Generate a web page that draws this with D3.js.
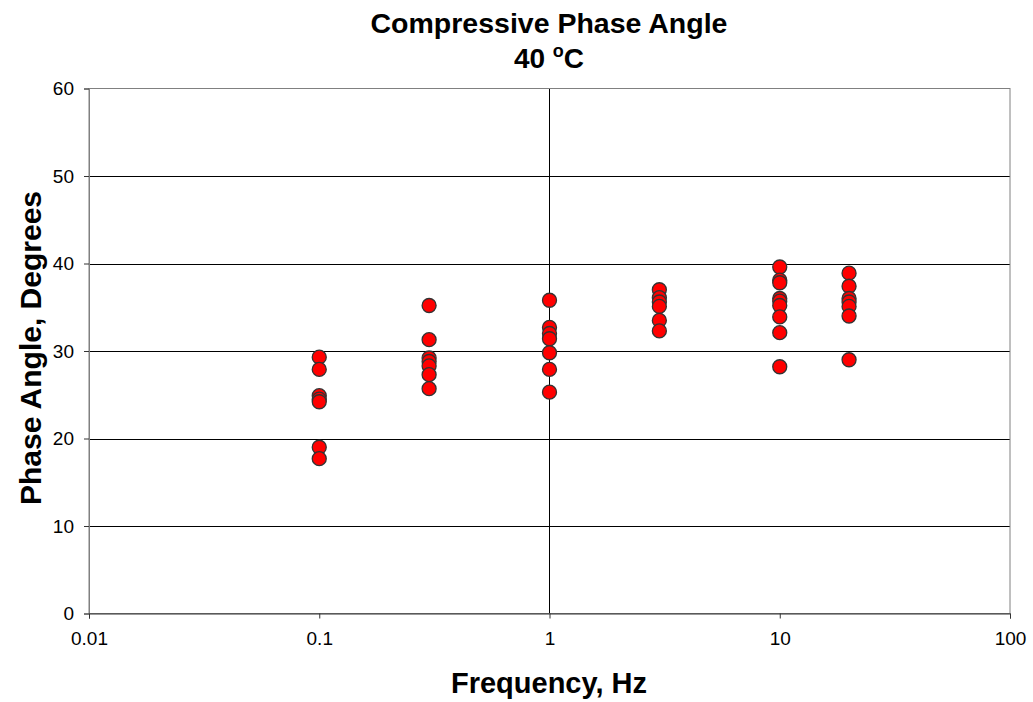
<!DOCTYPE html>
<html>
<head>
<meta charset="utf-8">
<script src="https://cdn.jsdelivr.net/npm/d3@7"></script>
<style>
  html, body { margin: 0; padding: 0; background: #fff; }
  svg { display: block; font-family: "Liberation Sans", Arial, sans-serif; }
</style>
</head>
<body>
<svg id="chart" width="1033" height="702"></svg>
<script>
/* ── DATA ─────────────────────────────────────── */
const frequencies = [0.1, 0.3, 1, 3, 10, 20];
const phase_01  = [29.3, 27.9, 24.9, 24.5, 24.2, 19.0, 17.7];
const phase_03  = [35.2, 31.3, 29.2, 28.8, 28.3, 27.3, 25.7];
const phase_1   = [35.8, 32.7, 32.0, 31.4, 29.8, 27.9, 25.3];
const phase_3   = [37.0, 36.1, 35.6, 35.1, 33.5, 32.3];
const phase_10  = [39.6, 38.1, 37.8, 36.0, 35.7, 35.2, 33.9, 32.1, 28.2];
const phase_20  = [38.9, 37.4, 36.0, 35.6, 35.1, 34.0, 29.0];
const xTicks = [0.01, 0.1, 1, 10, 100];
const xTickLabels = ['0.01', '0.1', '1', '10', '100'];
const yTicks = [0, 10, 20, 30, 40, 50, 60];

const groups = [phase_01, phase_03, phase_1, phase_3, phase_10, phase_20];
const points = [];
groups.forEach((vals, i) => vals.forEach(v => points.push({ f: frequencies[i], v })));

/* ── LAYOUT ───────────────────────────────────── */
const L = 89, R = 1010, T = 88.5, B = 613.5;
const FONT = '"Liberation Sans", Arial, sans-serif';
const svg = d3.select('#chart');

const x = d3.scaleLog().domain([0.01, 100]).range([L, R]);
const y = d3.scaleLinear().domain([0, 60]).range([B, T]);

// horizontal gridlines
svg.append('g').selectAll('line').data(yTicks.filter(t => t > 0 && t < 60)).enter()
  .append('line')
  .attr('x1', L).attr('x2', R)
  .attr('y1', d => Math.round(y(d)) + 0.5).attr('y2', d => Math.round(y(d)) + 0.5)
  .attr('stroke', '#000').attr('stroke-width', 1);

// vertical line at 1 Hz
svg.append('line')
  .attr('x1', Math.round(x(1)) + 0.5).attr('x2', Math.round(x(1)) + 0.5)
  .attr('y1', T).attr('y2', B)
  .attr('stroke', '#000').attr('stroke-width', 1);

// plot border
svg.append('rect')
  .attr('x', L).attr('y', T).attr('width', R - L).attr('height', B - T)
  .attr('fill', 'none').attr('stroke', '#808080').attr('stroke-width', 1);

// axes
const yAxis = d3.axisLeft(y).tickValues(yTicks).tickSize(5).tickPadding(10);
const gy = svg.append('g').attr('transform', `translate(${L},0)`).call(yAxis);
gy.attr('font-size', null).attr('font-family', null);
gy.select('.domain').attr('stroke', '#808080');
gy.selectAll('.tick line').attr('stroke', '#333');
gy.selectAll('.tick text').style('font-size', '19px').attr('fill', '#000')
  .style('font-family', FONT);

const xAxis = d3.axisBottom(x).tickValues(xTicks)
  .tickFormat((d, i) => xTickLabels[i]).tickSize(5).tickPadding(13);
const gx = svg.append('g').attr('transform', `translate(0,${B})`).call(xAxis);
gx.attr('font-size', null).attr('font-family', null);
gx.select('.domain').attr('stroke', '#333');
gx.selectAll('.tick line').attr('stroke', '#333');
gx.selectAll('.tick text').style('font-size', '19px').attr('fill', '#000')
  .style('font-family', FONT);

// points
svg.append('g').selectAll('circle').data(points).enter()
  .append('circle')
  .attr('cx', d => x(d.f)).attr('cy', d => y(d.v)).attr('r', 7)
  .attr('fill', '#ff0000').attr('stroke', '#333').attr('stroke-width', 1.3);

/* ── TITLES ───────────────────────────────────── */
svg.append('text').attr('x', 549).attr('y', 33)
  .attr('text-anchor', 'middle').style('font-size', '28.5px').attr('font-weight', 'bold')
  .text('Compressive Phase Angle');

const sub = svg.append('text').attr('x', 549).attr('y', 68)
  .attr('text-anchor', 'middle').style('font-size', '28px').attr('font-weight', 'bold');
sub.append('tspan').text('40 ');
sub.append('tspan').attr('dy', -11).style('font-size', '18px').text('o');
sub.append('tspan').attr('dy', 11).text('C');

svg.append('text').attr('x', 549).attr('y', 693)
  .attr('text-anchor', 'middle').style('font-size', '29px').attr('font-weight', 'bold')
  .text('Frequency, Hz');

svg.append('text')
  .attr('transform', `translate(41,348) rotate(-90)`)
  .attr('text-anchor', 'middle').style('font-size', '30px').attr('font-weight', 'bold')
  .text('Phase Angle, Degrees');
</script>
</body>
</html>
